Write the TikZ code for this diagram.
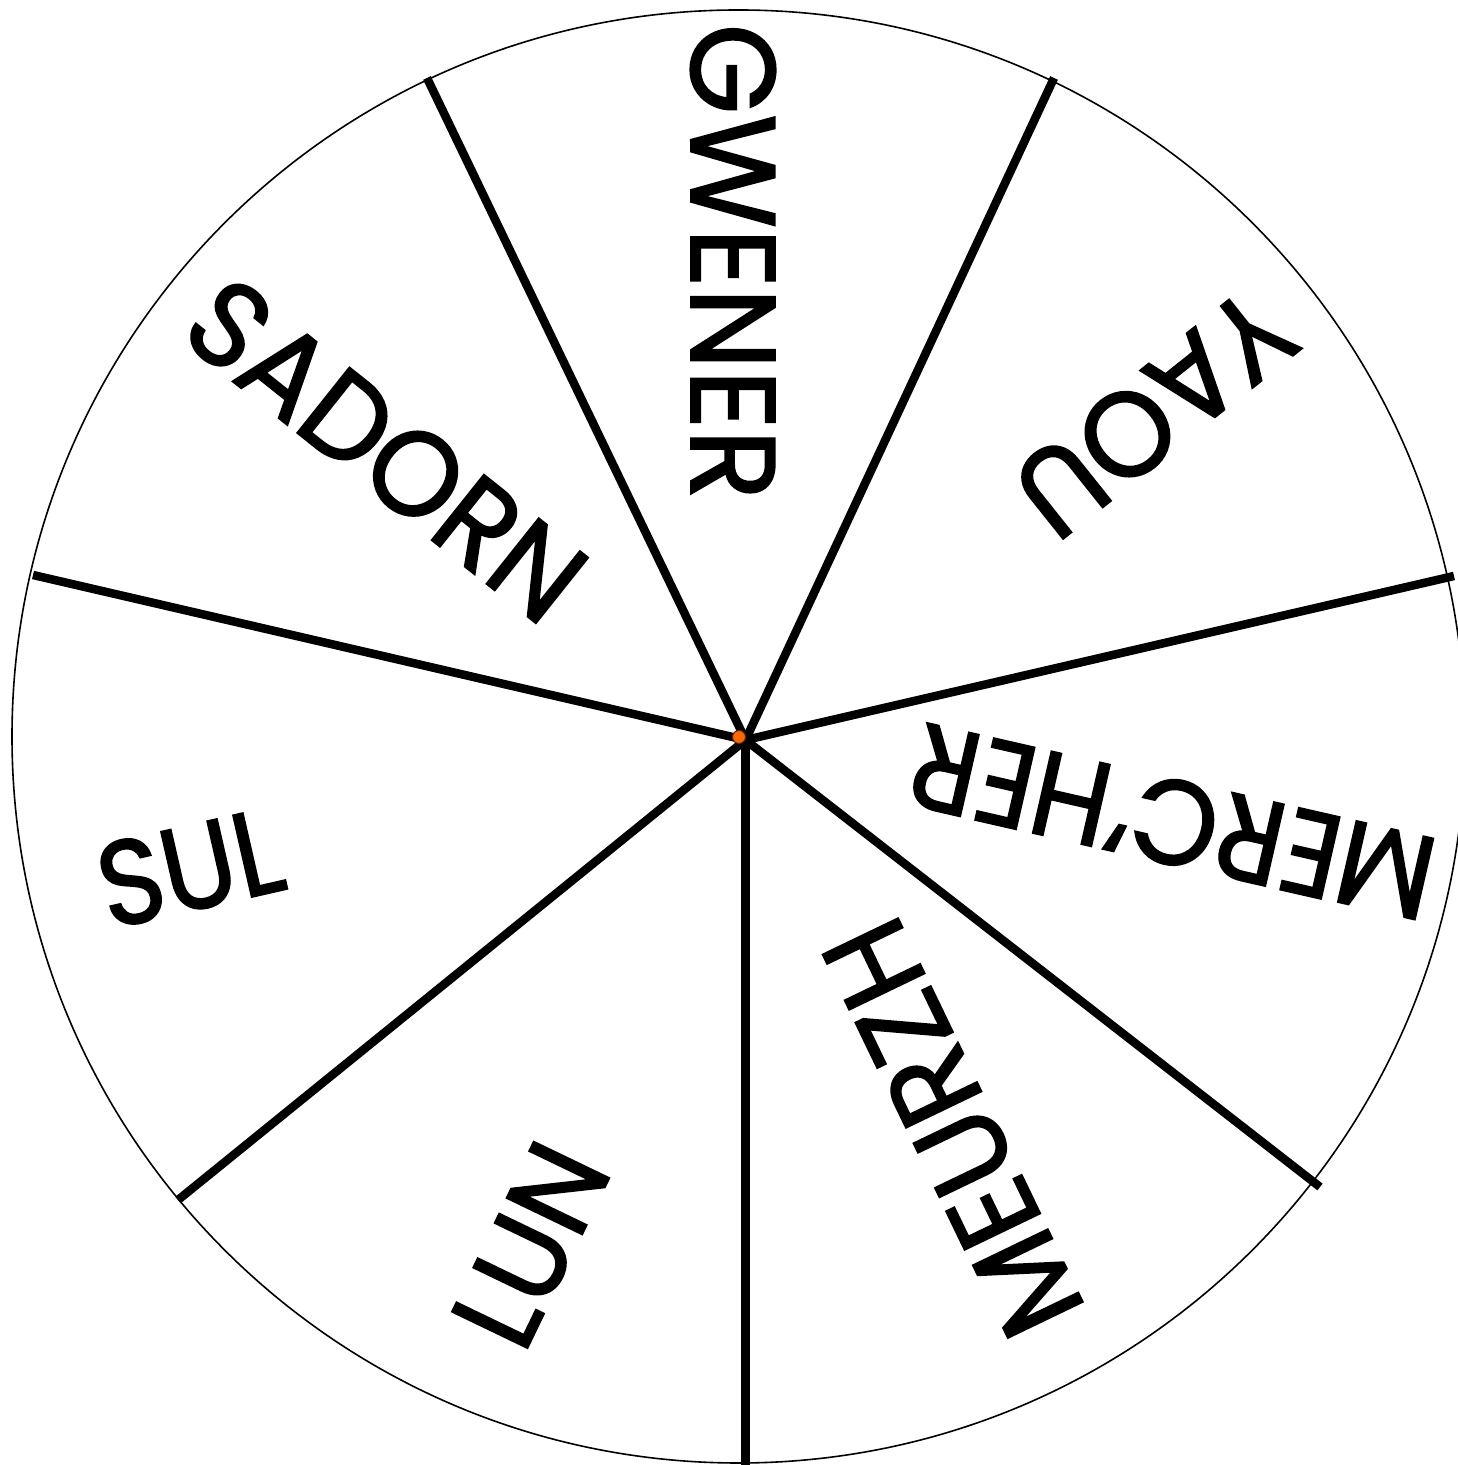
\documentclass[tikz,border=0pt]{standalone}
\usepackage{fontspec}
\setmainfont{Poppins}
\newfontfamily\dayfont{Poppins}[FakeBold=1.6]
\begin{document}
\begin{tikzpicture}[x=1pt,y=1pt,
  rim/.style={line width=1.6pt,draw=black},
  spoke/.style={line width=8.5pt,draw=black},
  day/.style={inner sep=0pt,font=\dayfont\fontsize{120}{120}\selectfont},
  hubdot/.style={circle,fill={rgb,255:red,255;green,102;blue,0},draw={rgb,255:red,90;green,40;blue,0},line width=1pt,minimum size=13pt,inner sep=0pt}]
\useasboundingbox (0,0) rectangle (1458,1465);
\fill[white] (0,0) rectangle (1458,1465);
\coordinate (c) at (738.5,728.5);
\draw[rim] (c) circle[radius=726.5];
\coordinate (hub) at (745.5,725);
\coordinate (e1) at (745.5,-10);
\coordinate (e2) at (1320,1465-1187);
\coordinate (e3) at (1454,1465-576);
\coordinate (e4) at (1054,1465-78);
\coordinate (e5) at (427,1465-78);
\coordinate (e6) at (33,1465-575);
\coordinate (e7) at (178,1465-1200);
\foreach \i in {1,...,7}{\draw[spoke] (hub) -- (e\i);}
\node[day,rotate=-90]     (gw) at (733,1465-262) {\scalebox{0.97}[1]{GWENER}};
\node[day,rotate=-38.57]  (sa) at (386,1465-450) {\scalebox{0.96}[1]{SADORN}};
\node[day,rotate=218.57]  (ya) at (1154,1465-413) {\scalebox{0.97}[1]{YAOU}};
\node[day,rotate=167.14]  (me) at (1172,1465-822) {\scalebox{0.93}[1]{MERC’HER}};
\node[day,rotate=115.71]  (mz) at (953,1465-1128) {\scalebox{0.95}[1]{MEURZH}};
\node[day,rotate=64.29]   (lu) at (531,1465-1245) {\scalebox{0.95}[1]{LUN}};
\node[day,rotate=12.86]   (su) at (190,1465-868) {\scalebox{0.91}[1]{SUL}};
\node[hubdot] (dot) at (739,728) {};
\end{tikzpicture}
\end{document}
